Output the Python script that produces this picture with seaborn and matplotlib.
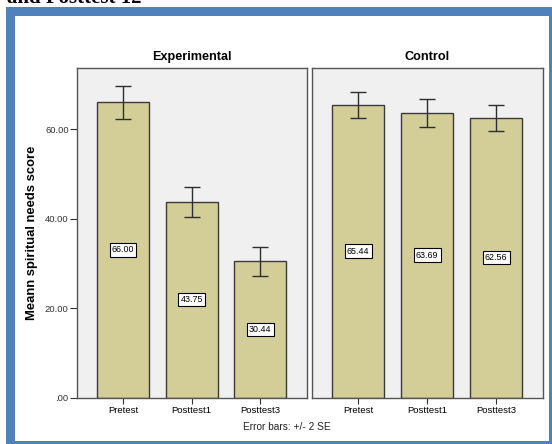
import numpy as np
import pandas as pd
import matplotlib
matplotlib.use("Agg")
import matplotlib.pyplot as plt
from matplotlib.patches import Rectangle
import seaborn as sns

# Mean spiritual needs score by group and measurement time
groups = ["Experimental", "Control"]
phases = ["Pretest", "Posttest1", "Posttest3"]
exp_means = [66.00, 43.75, 30.44]
ctrl_means = [65.44, 63.69, 62.56]
# half-width of the error bars (2 standard errors)
exp_err = [3.6, 3.4, 3.2]
ctrl_err = [3.0, 3.1, 2.95]

yticks = [0, 20, 40, 60]
ytick_labels = [".00", "20.00", "40.00", "60.00"]

sns.set_theme(style="white")
plt.rcParams["font.family"] = ["Liberation Sans", "DejaVu Sans"]

W, H = 552, 444
fig = plt.figure(figsize=(W / 100, H / 100), dpi=100)
fig.patch.set_facecolor("white")

def px_rect(x0, y0, x1, y1):
    """Axes rect in figure fractions from pixel box (y measured from top)."""
    return [x0 / W, 1 - y1 / H, (x1 - x0) / W, (y1 - y0) / H]

bar_color = "#D3CE98"
edge_color = "#3A3A3A"
panel_bg = "#F0F0F0"

frames = {
    "Experimental": (px_rect(77, 68, 307, 397.5), exp_means, exp_err),
    "Control": (px_rect(312, 68, 543, 397.5), ctrl_means, ctrl_err),
}

for i, g in enumerate(groups):
    rect, means, errs = frames[g]
    ax = fig.add_axes(rect)
    df = pd.DataFrame({"phase": phases, "score": means})
    sns.barplot(data=df, x="phase", y="score", order=phases, color=bar_color,
                saturation=1, width=0.76, errorbar=None, edgecolor=edge_color,
                linewidth=1.0, ax=ax)
    ax.errorbar(np.arange(len(phases)), means, yerr=errs, fmt="none",
                ecolor="#2E2E2E", elinewidth=1.0, capsize=6, capthick=1.0,
                zorder=5)
    for k, v in enumerate(means):
        ax.text(k, v / 2, f"{v:.2f}", ha="center", va="center", fontsize=6.4,
                color="black", zorder=6,
                bbox=dict(boxstyle="square,pad=0.25", facecolor="white",
                          edgecolor="black", linewidth=0.8))
    ax.set_facecolor(panel_bg)
    ax.set_xlim(-0.67, 2.68)
    ax.set_ylim(0, 73.7)
    ax.set_xlabel("")
    ax.set_ylabel("")
    for s in ax.spines.values():
        s.set_visible(True)
        s.set_color("#555555")
        s.set_linewidth(1.0)
    ax.tick_params(axis="x", bottom=True, length=4, width=0.8, color="#333333",
                   labelsize=6.8, pad=2, labelcolor="black")
    ax.set_title(g, fontsize=9.1, fontweight="bold", pad=6, color="black")
    if i == 0:
        ax.set_yticks(yticks)
        ax.set_yticklabels(ytick_labels)
        ax.tick_params(axis="y", left=True, length=5, width=0.8, color="#333333",
                       labelsize=6.8, pad=1, labelcolor="#333333")
        ax.set_ylabel("Meann spiritual needs score", fontsize=9.4,
                      fontweight="bold", labelpad=5, color="black")
    else:
        ax.set_yticks([])

fig.text(287 / W, 1 - 426.5 / H, "Error bars: +/- 2 SE", ha="center",
         va="center", fontsize=7.3, color="#222222")

# Caption line running off the top edge of the page
fig.text(7 / W, 1 - 3 / H, "and Posttest 12", ha="left", va="baseline",
         fontsize=15, fontweight="bold", color="black",
         family=["Liberation Serif", "DejaVu Serif"])

# Blue page frame
blue = "#4F81BD"
for (x0, y0, x1, y1) in [(6, 7, 15, 444), (6, 7, 552, 16),
                         (549, 7, 552, 444), (6, 441, 552, 444)]:
    fig.patches.append(Rectangle((x0 / W, 1 - y1 / H), (x1 - x0) / W,
                                 (y1 - y0) / H, transform=fig.transFigure,
                                 facecolor=blue, edgecolor="none", zorder=10))

fig.savefig("out.png", dpi=100)
